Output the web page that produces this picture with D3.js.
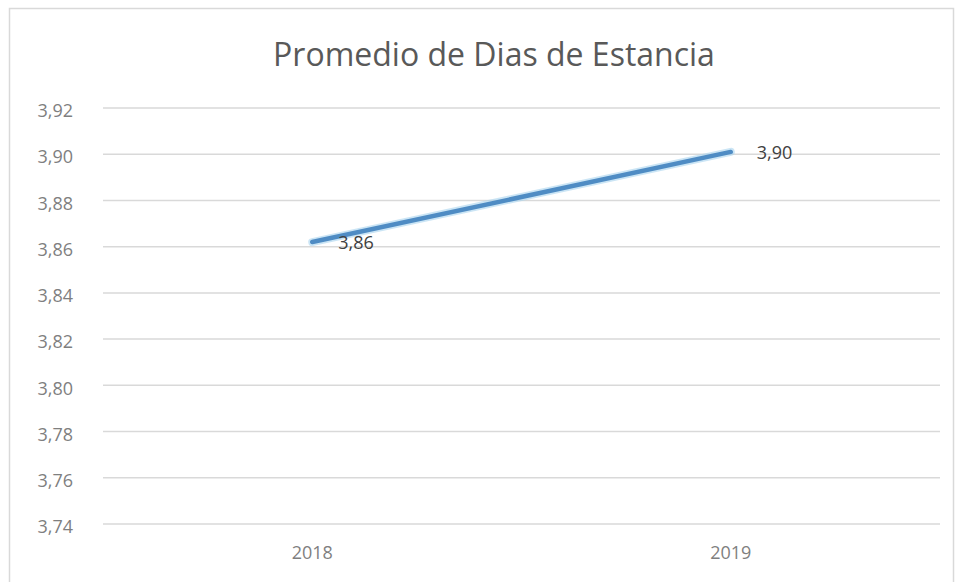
<!DOCTYPE html>
<html>
<head>
<meta charset="utf-8">
<script src="https://cdn.jsdelivr.net/npm/d3@7"></script>
<style>
  html, body { margin: 0; padding: 0; background: #ffffff; }
  svg { display: block; }
</style>
</head>
<body>
<svg id="chart" width="956" height="582"></svg>
<script>
// Average length of stay, by year
const titleText = "Promedio de Dias de Estancia";
const years = ["2018", "2019"];
const stayValues = [3.862, 3.901];
const yTicks = [3.74, 3.76, 3.78, 3.80, 3.82, 3.84, 3.86, 3.88, 3.90, 3.92];

const svg = d3.select("#chart");
const plot = { left: 103, right: 940, top: 108, bottom: 524 };
const fontFamily = "'Open Sans', 'Liberation Sans', sans-serif";
const comma = v => d3.format(".2f")(v).replace(".", ",");

// chart area frame
svg.append("rect")
  .attr("x", 9.5).attr("y", 8.5)
  .attr("width", 944).attr("height", 590)
  .attr("fill", "#ffffff")
  .attr("stroke", "#d9d9d9").attr("stroke-width", 1.5);

const x = d3.scaleBand().domain(years).range([plot.left, plot.right]);
const y = d3.scaleLinear().domain([3.74, 3.92]).range([plot.bottom, plot.top]);

// horizontal gridlines
svg.append("g").selectAll("line")
  .data(yTicks)
  .join("line")
  .attr("x1", plot.left).attr("x2", plot.right)
  .attr("y1", d => y(d)).attr("y2", d => y(d))
  .attr("stroke", "#d9d9d9").attr("stroke-width", 1.5);

// y axis labels
const yAxis = d3.axisLeft(y).tickValues(yTicks).tickFormat(comma).tickSize(0).tickPadding(0);
svg.append("g")
  .attr("transform", `translate(73,3)`)
  .call(yAxis)
  .call(g => g.select(".domain").remove())
  .selectAll("text")
  .attr("font-family", fontFamily).attr("font-size", 18)
  .attr("fill", "#7f7f7f");

// x axis labels
const xAxis = d3.axisBottom(x).tickSize(0).tickPadding(0);
svg.append("g")
  .attr("transform", `translate(0,${plot.bottom + 22})`)
  .call(xAxis)
  .call(g => g.select(".domain").remove())
  .selectAll("text")
  .attr("font-family", fontFamily).attr("font-size", 18)
  .attr("fill", "#7f7f7f");

// data line
const pts = years.map((yr, i) => [x(yr) + x.bandwidth() / 2, y(stayValues[i])]);
svg.append("path")
  .attr("d", d3.line()(pts))
  .attr("fill", "none")
  .attr("stroke", "#a9d4ee").attr("stroke-width", 8)
  .attr("stroke-linecap", "round").attr("opacity", 0.6);
svg.append("path")
  .attr("d", d3.line()(pts))
  .attr("fill", "none")
  .attr("stroke", "#4f8cc4").attr("stroke-width", 4.5)
  .attr("stroke-linecap", "round");

// data labels
svg.append("g").selectAll("text")
  .data(years)
  .join("text")
  .attr("x", (d, i) => x(d) + x.bandwidth() / 2 + 26)
  .attr("y", (d, i) => y(stayValues[i]) + 7)
  .attr("font-family", fontFamily).attr("font-size", 18)
  .attr("fill", "#404040")
  .text((d, i) => comma(stayValues[i]));

// title
svg.append("text")
  .attr("x", 494).attr("y", 66)
  .attr("text-anchor", "middle")
  .attr("font-family", fontFamily).attr("font-size", 32)
  .attr("fill", "#595959")
  .text(titleText);
</script>
</body>
</html>
